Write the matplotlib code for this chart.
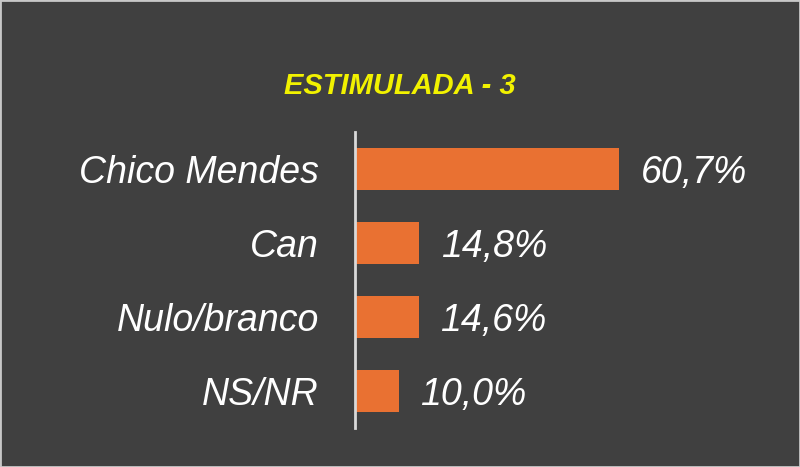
import matplotlib.pyplot as plt
from matplotlib.patches import Rectangle

categories = ["Chico Mendes", "Can", "Nulo/branco", "NS/NR"]
values = [60.7, 14.8, 14.6, 10.0]
value_labels = ["60,7%", "14,8%", "14,6%", "10,0%"]
title = "ESTIMULADA - 3"

bg = "#404040"
bar_color = "#E97132"

plt.rcParams['font.family'] = ['Liberation Sans', 'DejaVu Sans']

fig = plt.figure(figsize=(8, 4.67), dpi=100, facecolor=bg)
ax = fig.add_axes([355 / 800, 1 - 428 / 467, 425 / 800, 296 / 467])
ax.set_facecolor(bg)

y = list(range(len(categories)))
ax.barh(y, values, height=0.58, color=bar_color, zorder=2)
ax.set_xlim(0, 97.7)
ax.set_ylim(3.5, -0.5)

for s in ["top", "right", "bottom"]:
    ax.spines[s].set_visible(False)
ax.spines["left"].set_color("#d9d9d9")
ax.spines["left"].set_linewidth(2)
ax.set_xticks([])
ax.set_yticks(y)
ax.set_yticklabels(categories, fontsize=27, style="italic", color="white")
ax.tick_params(axis="y", length=0, pad=26)

for i, v in enumerate(values):
    ax.text(v + 5.0, i, value_labels[i], va="center_baseline", ha="left",
            fontsize=27, style="italic", color="white")

fig.text(0.5, 1 - 86 / 467, title, ha="center", va="center",
         fontsize=21, fontweight="bold", style="italic", color="#F2F200")

fig.patches.append(Rectangle((0, 0), 1, 1, transform=fig.transFigure,
                             fill=False, edgecolor="#c8c8c8", linewidth=2))

fig.savefig("out.png", dpi=100, facecolor=bg)
